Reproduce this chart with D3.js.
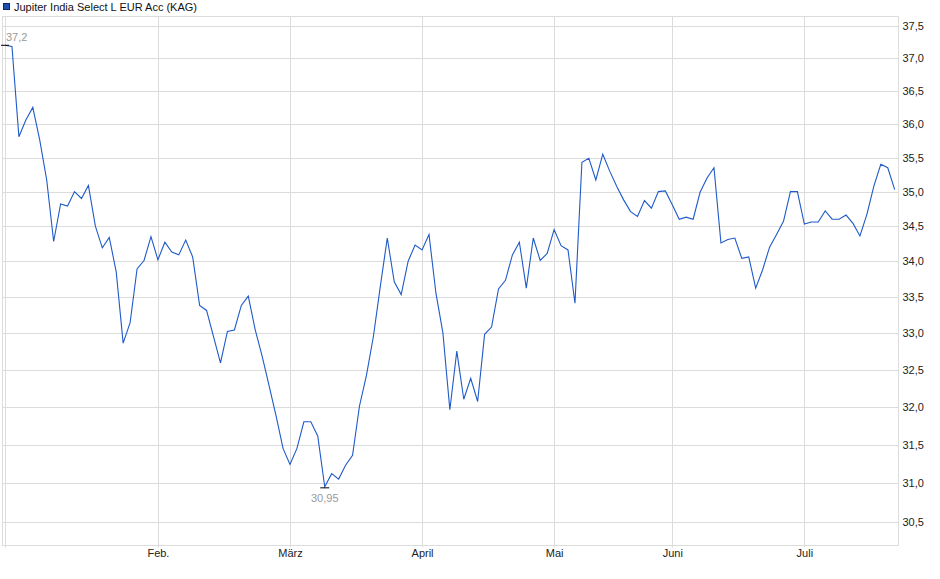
<!DOCTYPE html>
<html>
<head>
<meta charset="utf-8">
<script src="https://cdn.jsdelivr.net/npm/d3@7"></script>
<style>
  body { margin: 0; background: #fff; }
  svg { display: block; font-family: "Liberation Sans", Arial, sans-serif; }
</style>
</head>
<body>
<svg id="chart" width="940" height="579"></svg>
<script>
// fund price, one value per trading day (Jan -> end of Jul)
var prices = [
    37.2, 37.18, 35.81, 36.06, 36.25, 35.76, 35.17, 34.28, 34.82, 34.79,
    35.0, 34.9, 35.09, 34.5, 34.19, 34.34, 33.85, 32.86, 33.14, 33.89,
    34.01, 34.35, 34.02, 34.27, 34.13, 34.09, 34.3, 34.06, 33.38, 33.31,
    32.95, 32.59, 33.02, 33.04, 33.38, 33.51, 33.04, 32.68, 32.28, 31.88,
    31.45, 31.24, 31.45, 31.8, 31.8, 31.61, 30.95, 31.12, 31.05, 31.23,
    31.36, 32.01, 32.42, 32.95, 33.65, 34.33, 33.71, 33.53, 34.0, 34.23,
    34.16, 34.38, 33.55, 33.0, 31.96, 32.75, 32.1, 32.38, 32.07, 32.98,
    33.08, 33.61, 33.73, 34.09, 34.27, 33.62, 34.33, 34.01, 34.11, 34.45,
    34.22, 34.16, 33.41, 35.43, 35.49, 35.17, 35.55, 35.3, 35.08, 34.88,
    34.71, 34.64, 34.87, 34.76, 35.0, 35.01, 34.81, 34.6, 34.63, 34.6,
    34.99, 35.2, 35.35, 34.26, 34.31, 34.33, 34.04, 34.06, 33.62, 33.88,
    34.2, 34.38, 34.57, 35.0, 35.0, 34.53, 34.56, 34.56, 34.72, 34.6,
    34.6, 34.66, 34.54, 34.36, 34.67, 35.08, 35.4, 35.35, 35.03
]
// month starts as index into prices
var monthIdx = [0, 22, 41, 60, 79, 96, 115]
var monthLabels = ["", "Feb.", "März", "April", "Mai", "Juni", "Juli"]
var yTicks = [30.5, 31.0, 31.5, 32.0, 32.5, 33.0, 33.5, 34.0, 34.5, 35.0, 35.5, 36.0, 36.5, 37.0, 37.5]
var seriesName = "Jupiter India Select L EUR Acc (KAG)"

const frame = { left: 2.5, right: 898.5, top: 16.5, bottom: 545.5 }
const lineColor = "#1f5ac8"
const gridColor = "#dcdcdc"
const fmt = v => d3.format(".2~f")(v).replace(".", ",")
const fmtAxis = v => d3.format(".1f")(v).replace(".", ",")

var svg = d3.select("#chart")

var xScale = d3.scaleLinear().domain([0, prices.length - 1]).range([5, 894.7])
var yScale = d3.scaleLog().domain([30.5, 37.5]).range([522, 26])

// horizontal grid
svg.append("g")
    .selectAll("line")
    .data(yTicks)
    .join("line")
        .attr("x1", frame.left)
        .attr("x2", frame.right)
        .attr("y1", d => Math.round(yScale(d)) + 0.5)
        .attr("y2", d => Math.round(yScale(d)) + 0.5)
        .attr("stroke", gridColor)
        .attr("stroke-width", 1)

// vertical grid at month starts
svg.append("g")
    .selectAll("line")
    .data(monthIdx)
    .join("line")
        .attr("x1", d => Math.round(xScale(d)) + 0.5)
        .attr("x2", d => Math.round(xScale(d)) + 0.5)
        .attr("y1", frame.top)
        .attr("y2", frame.bottom + 2)
        .attr("stroke", gridColor)
        .attr("stroke-width", 1)

// frame
svg.append("rect")
    .attr("x", frame.left)
    .attr("y", frame.top)
    .attr("width", frame.right - frame.left)
    .attr("height", frame.bottom - frame.top)
    .attr("fill", "none")
    .attr("stroke", gridColor)
    .attr("stroke-width", 1)

// right axis labels
var yAxis = svg.append("g")
    .attr("transform", "translate(" + frame.right + ",0)")
    .call(d3.axisRight(yScale).tickValues(yTicks).tickFormat(fmtAxis).tickSize(0).tickPadding(4))
yAxis.select(".domain").remove()
yAxis.selectAll("text")
    .attr("font-size", 11)
    .attr("font-family", "Liberation Sans, Arial, sans-serif")
    .attr("fill", "#222")

// month labels
var xAxis = svg.append("g")
    .attr("transform", "translate(0," + frame.bottom + ")")
    .call(d3.axisBottom(xScale).tickValues(monthIdx.slice(1))
        .tickFormat((d, i) => monthLabels[i + 1]).tickSize(0).tickPadding(4))
xAxis.select(".domain").remove()
xAxis.selectAll("text")
    .attr("font-size", 11)
    .attr("font-family", "Liberation Sans, Arial, sans-serif")
    .attr("fill", "#222")

// price line
var line = d3.line()
    .x((d, i) => xScale(i))
    .y(d => yScale(d))

svg.append("path")
    .datum(prices)
    .attr("d", line)
    .attr("fill", "none")
    .attr("stroke", lineColor)
    .attr("stroke-width", 1.1)

// max / min markers
var maxI = d3.maxIndex(prices)
var minI = d3.minIndex(prices)

svg.append("line")
    .attr("x1", xScale(maxI) - 4).attr("x2", xScale(maxI) + 4)
    .attr("y1", yScale(prices[maxI])).attr("y2", yScale(prices[maxI]))
    .attr("stroke", "#000").attr("stroke-width", 1)
svg.append("text")
    .attr("x", xScale(maxI) + 1)
    .attr("y", yScale(prices[maxI]) - 4)
    .attr("font-size", 11)
    .attr("fill", "#9a9a9a")
    .text(fmt(prices[maxI]))

svg.append("line")
    .attr("x1", xScale(minI) - 4.5).attr("x2", xScale(minI) + 4.5)
    .attr("y1", yScale(prices[minI]) + 1).attr("y2", yScale(prices[minI]) + 1)
    .attr("stroke", "#000").attr("stroke-width", 1)
svg.append("text")
    .attr("x", xScale(minI))
    .attr("y", yScale(prices[minI]) + 15)
    .attr("text-anchor", "middle")
    .attr("font-size", 11)
    .attr("fill", "#9a9a9a")
    .text(fmt(prices[minI]))

// legend
svg.append("rect")
    .attr("x", 3.5).attr("y", 3.5)
    .attr("width", 6).attr("height", 6)
    .attr("fill", "#1d4fb0")
    .attr("stroke", "#0d2a66")
    .attr("stroke-width", 1)
svg.append("text")
    .attr("x", 14)
    .attr("y", 10.5)
    .attr("font-size", 11)
    .attr("fill", "#111")
    .text(seriesName)
</script>
</body>
</html>
